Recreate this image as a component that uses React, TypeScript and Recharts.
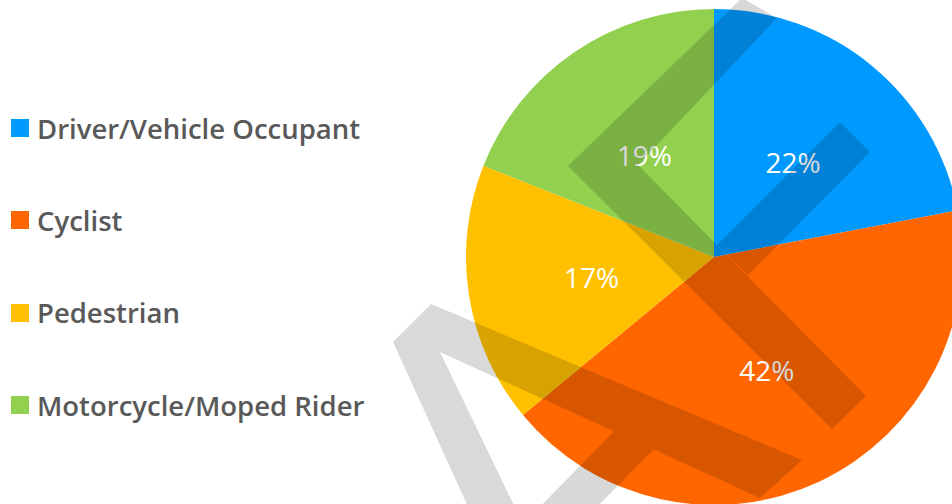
import { PieChart, Pie, Cell } from 'recharts';

const CATEGORIES = ['Driver/Vehicle Occupant', 'Cyclist', 'Pedestrian', 'Motorcycle/Moped Rider'];
const SHARES = [22, 42, 17, 19];
const COLORS = ['#0099FF', '#FF6600', '#FFC000', '#92D050'];

const data = CATEGORIES.map((name, i) => ({ name, value: SHARES[i] }));

const FONT = "'Open Sans', 'Noto Sans', sans-serif";
const RADIAN = Math.PI / 180;

// percentage text sits halfway out on each slice
const renderLabel = (props: any) => {
  const { cx, cy, midAngle, outerRadius, value } = props;
  const r = outerRadius * 0.5;
  const x = cx + r * Math.cos(-midAngle * RADIAN);
  const y = cy + r * Math.sin(-midAngle * RADIAN);
  return (
    <text
      x={x}
      y={y + 1}
      fill="#fff"
      textAnchor="middle"
      dominantBaseline="central"
      fontFamily={FONT}
      fontSize={28}
    >
      {`${value}%`}
    </text>
  );
};

function LegendBox() {
  return (
    <div style={{ position: 'absolute', left: 0, top: 82, fontFamily: FONT }}>
      {CATEGORIES.map((name, i) => (
        <div key={name} style={{ height: 92.3, display: 'flex', alignItems: 'center' }}>
          <span
            style={{
              display: 'inline-block',
              width: 18,
              height: 18,
              background: COLORS[i],
              marginLeft: 11,
              marginRight: 8,
            }}
          />
          <span style={{ fontSize: 27.5, fontWeight: 600, color: '#595959', whiteSpace: 'nowrap' }}>
            {name}
          </span>
        </div>
      ))}
    </div>
  );
}

// grey watermark drawn over the chart
function Watermark() {
  return (
    <svg
      width={952}
      height={504}
      style={{ position: 'absolute', left: 0, top: 0, pointerEvents: 'none' }}
    >
      <g fill="#000" opacity={0.15}>
        <polygon points="568,166 742,-2 777,18 638,165 866,396 832,429" />
        <polygon points="840,122 870,152 748,275 717,245" />
        <polygon points="393,342 431,304 802,460 760,498 440,352 521,520 474,520" />
        <polygon points="625,420 665,438 584,520 527,520" />
      </g>
    </svg>
  );
}

export default function App() {
  return (
    <div
      style={{
        position: 'absolute',
        left: 0,
        top: 0,
        width: 952,
        height: 504,
        overflow: 'hidden',
        background: '#fff',
      }}
    >
      <PieChart width={952} height={504} margin={{ top: 0, right: 0, bottom: 0, left: 0 }}>
        <Pie
          data={data}
          dataKey="value"
          nameKey="name"
          cx={714}
          cy={257}
          outerRadius={248}
          startAngle={90}
          endAngle={-270}
          stroke="none"
          label={renderLabel}
          labelLine={false}
          isAnimationActive={false}
        >
          {data.map((d, i) => (
            <Cell key={d.name} fill={COLORS[i]} />
          ))}
        </Pie>
      </PieChart>
      <LegendBox />
      <Watermark />
    </div>
  );
}
